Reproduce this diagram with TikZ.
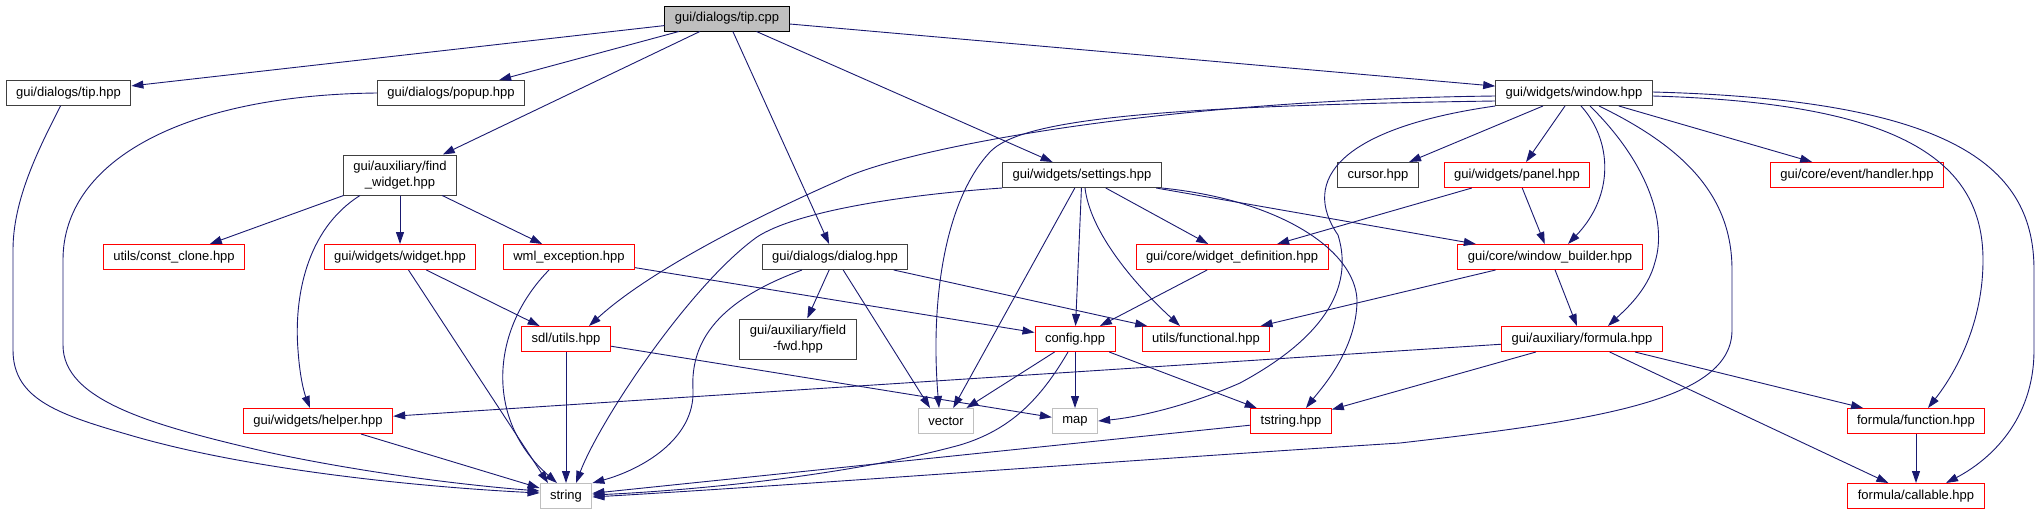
\documentclass[tikz,border=0pt]{standalone}
\usepackage{fontspec}
\setmainfont{Liberation Sans}
\usepackage{xcolor}
\usetikzlibrary{arrows.meta,positioning}
\definecolor{edgeblue}{HTML}{191970}
\definecolor{boxred}{HTML}{FF0000}
\definecolor{sysgray}{HTML}{BFBFBF}

\begin{document}
\begin{tikzpicture}[x=1pt,y=-1pt,
  file/.style={draw=black!75,fill=white,line width=1pt,inner xsep=10pt,inner ysep=0pt,
    minimum height=25pt,align=center,font=\fontsize{13}{16}\selectfont},
  redfile/.style={file,draw=boxred},
  sysfile/.style={file,draw=sysgray},
  dep/.style={draw=edgeblue,line width=0.9pt,-{Triangle[length=12pt,width=8pt]}}]
\useasboundingbox (0,0) rectangle (2037,515);
\node[file,fill=sysgray,draw=black] (tipcpp) at (727,18.5) {gui/dialogs/tip.cpp};
\node[file] (tiphpp) at (68.5,93) {gui/dialogs/tip.hpp};
\node[file] (popup) at (451,93) {gui/dialogs/popup.hpp};
\node[file] (window) at (1574,93) {gui/widgets/window.hpp};
\node[file,minimum height=40pt] (findw) at (400,175) {gui/auxiliary/find\\\_widget.hpp};
\node[file] (settings) at (1082,175) {gui/widgets/settings.hpp};
\node[file] (cursor) at (1378,175) {cursor.hpp};
\node[redfile] (panel) at (1517,175) {gui/widgets/panel.hpp};
\node[redfile] (handler) at (1857,175) {gui/core/event/handler.hpp};
\node[redfile] (constclone) at (174,257) {utils/const\_clone.hpp};
\node[redfile] (widget) at (400,257) {gui/widgets/widget.hpp};
\node[redfile] (wmlexc) at (569,257) {wml\_exception.hpp};
\node[file] (dialog) at (835,257) {gui/dialogs/dialog.hpp};
\node[redfile] (widgetdef) at (1232,257) {gui/core/widget\_definition.hpp};
\node[redfile] (winbuilder) at (1550,257) {gui/core/window\_builder.hpp};
\node[redfile] (sdlutils) at (566,339) {sdl/utils.hpp};
\node[file,minimum height=40pt] (fieldfwd) at (798,339) {gui/auxiliary/field\\-fwd.hpp};
\node[redfile] (config) at (1075,339) {config.hpp};
\node[redfile] (functional) at (1206,339) {utils/functional.hpp};
\node[redfile] (formula) at (1582,339) {gui/auxiliary/formula.hpp};
\node[redfile] (helper) at (318,421) {gui/widgets/helper.hpp};
\node[sysfile] (vector) at (946,421) {vector};
\node[sysfile] (map) at (1075,421) {map};
\node[redfile] (tstring) at (1291,421) {tstring.hpp};
\node[redfile] (function) at (1916,421) {formula/function.hpp};
\node[sysfile] (string) at (566,496) {string};
\node[redfile] (callable) at (1916,496) {formula/callable.hpp};

\draw[dep] (tipcpp) -- (tiphpp);
\draw[dep] (tipcpp) -- (popup);
\draw[dep] (tipcpp) -- (findw);
\draw[dep] (tipcpp) -- (dialog);
\draw[dep] (tipcpp) -- (settings);
\draw[dep] (tipcpp) -- (window);
\draw[dep] ([xshift=-8pt]tiphpp.south) .. controls (38,150) and (13,200) .. (13,250) -- (13,350)
  .. controls (13,400) and (60,415) .. (133,436) .. controls (250,470) and (420,487) .. ([yshift=3pt]string.west);
\draw[dep] (popup.west) .. controls (185,95) and (63,160) .. (63,260) -- (63,345)
  .. controls (63,400) and (150,425) .. (267,452) .. controls (350,470) and (450,484) .. ([yshift=5pt]string.west);
\draw[dep] (findw) -- (constclone);
\draw[dep] (findw) -- (widget);
\draw[dep] (findw) -- (wmlexc);
\draw[dep] ([xshift=-40pt]findw.south) .. controls (305,230) and (294,300) .. (298,350)
  .. controls (300,380) and (305,395) .. ([xshift=-8pt]helper.north);
\draw[dep] (widget) -- (sdlutils);
\draw[dep] (widget) -- ([xshift=-18pt]string.north);
\draw[dep] ([xshift=-20pt]wmlexc.south) .. controls (490,330) and (485,420) .. ([xshift=-9pt]string.north);
\draw[dep] (wmlexc) -- (config);
\draw[dep] ([yshift=-3pt]window.west) .. controls (1150,100) and (900,150) .. (840,180)
  .. controls (760,215) and (650,270) .. ([xshift=23pt]sdlutils.north);
\draw[dep] ([yshift=-8pt]window.west) .. controls (1150,106) and (1020,120) .. (990,152)
  .. controls (945,200) and (930,300) .. ([xshift=-7pt]vector.north);
\draw[dep] (window) -- (cursor);
\draw[dep] (window) -- (panel);
\draw[dep] (window) -- (handler);
\draw[dep] ([xshift=7pt]window.south) .. controls (1612,140) and (1615,195) .. ([xshift=18pt]winbuilder.north);
\draw[dep] ([xshift=16pt]window.south) .. controls (1645,160) and (1668,220) .. (1655,262)
  .. controls (1648,290) and (1625,310) .. ([xshift=26pt]formula.north);
\draw[dep] (window.south west) .. controls (1340,128) and (1300,180) .. (1338,235)
  .. controls (1355,290) and (1320,340) .. (1240,383) .. controls (1190,405) and (1140,417) .. (map.east);
\draw[dep] ([xshift=25pt]window.south) .. controls (1690,150) and (1732,200) .. (1732,270) -- (1732,330)
  .. controls (1732,400) and (1600,420) .. (1400,443) .. controls (1100,462) and (800,485) .. ([yshift=-1pt]string.east);
\draw[dep] ([yshift=-3pt]window.east) .. controls (1900,103) and (1983,160) .. (1983,260)
  .. controls (1983,330) and (1950,380) .. ([xshift=12pt]function.north);
\draw[dep] ([yshift=1pt]window.east) .. controls (1960,100) and (2034,170) .. (2034,270) -- (2034,350)
  .. controls (2034,420) and (1990,460) .. ([xshift=30pt]callable.north);
\draw[dep] (settings.south west) .. controls (900,195) and (795,212) .. (757,237)
  .. controls (690,285) and (600,420) .. ([xshift=10pt]string.north);
\draw[dep] (settings) -- (vector);
\draw[dep] (settings) -- (config);
\draw[dep] ([xshift=3pt]settings.south) .. controls (1090,230) and (1130,280) .. ([xshift=-26pt]functional.north);
\draw[dep] (settings) -- (widgetdef);
\draw[dep] (settings) -- (winbuilder);
\draw[dep] (settings.south east) .. controls (1280,200) and (1355,250) .. (1357,300)
  .. controls (1357,350) and (1320,390) .. ([xshift=15pt]tstring.north);
\draw[dep] (panel) -- (widgetdef);
\draw[dep] (panel) -- (winbuilder);
\draw[dep] (dialog) -- (fieldfwd);
\draw[dep] (dialog) -- ([xshift=-16pt]vector.north);
\draw[dep] ([xshift=-33pt]dialog.south) .. controls (720,300) and (690,340) .. (693,390)
  .. controls (695,440) and (640,470) .. (string.north east);
\draw[dep] (dialog) -- (functional);
\draw[dep] (widgetdef) -- (config);
\draw[dep] (winbuilder) -- (functional);
\draw[dep] (winbuilder) -- (formula);
\draw[dep] (sdlutils) -- (string);
\draw[dep] (sdlutils) -- (map);
\draw[dep] (config) -- (vector);
\draw[dep] (config) -- (map);
\draw[dep] (config) -- (tstring);
\draw[dep] ([xshift=-7pt]config.south) .. controls (1040,400) and (1010,430) .. (960,445)
  .. controls (850,475) and (700,490) .. ([yshift=1pt]string.east);
\draw[dep] (formula) -- (helper);
\draw[dep] (formula) -- (tstring);
\draw[dep] (formula) -- (function);
\draw[dep] (formula) -- (callable);
\draw[dep] (helper) -- (string);
\draw[dep] (tstring) -- (string);
\draw[dep] (function) -- (callable);
\end{tikzpicture}
\end{document}
